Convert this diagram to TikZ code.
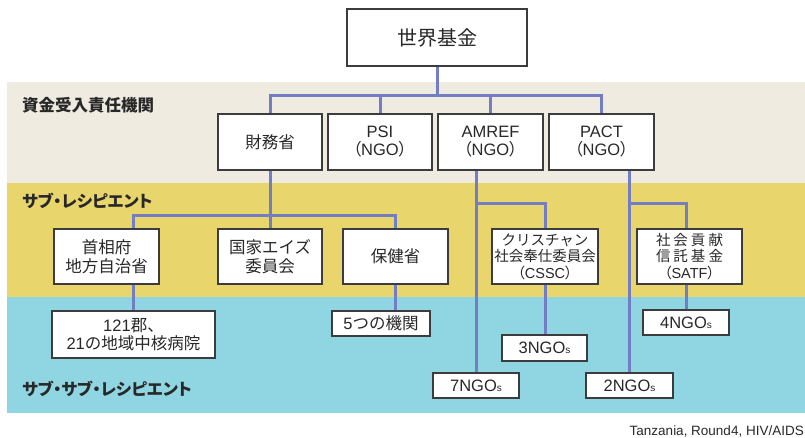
\documentclass[tikz,border=0pt]{standalone}
\usepackage{fontspec}
\setmainfont{Noto Sans CJK JP}
\newfontfamily\jpp[RawFeature=+palt]{Noto Sans CJK JP}
\newfontfamily\lat{Liberation Sans}
\newfontfamily\footfont{Liberation Sans}
\definecolor{bandbeige}{RGB}{239,235,225}
\definecolor{bandyellow}{RGB}{232,214,108}
\definecolor{bandcyan}{RGB}{143,214,226}
\definecolor{linkblue}{RGB}{115,125,195}
\definecolor{bordergray}{RGB}{60,60,60}
\definecolor{textgray}{RGB}{40,40,40}
\newcommand{\ngos}[1]{{\lat #1NGO{\fontsize{10}{10}\selectfont s}}}
\newcommand{\pn}[1]{{\jpp （}{\lat #1}{\jpp ）}}
\newcommand{\lsp}{\hspace{3pt}}
\pgfdeclarelayer{bands}
\pgfdeclarelayer{lines}
\pgfsetlayers{bands,lines,main}
\begin{document}
\begin{tikzpicture}[x=1pt,y=-1pt,
  box/.style={draw=bordergray, line width=1.2pt, fill=white, inner sep=0pt,
    align=center, text=textgray, font=\fontsize{16.5}{18}\selectfont},
  smallbox/.style={box, font=\fontsize{14.5}{16.5}\selectfont},
  link/.style={draw=linkblue, line width=3pt},
  lvl/.style={anchor=west, text=textgray, inner sep=0pt,
    font=\jpp\fontsize{16.5}{18}\selectfont\bfseries}]
\useasboundingbox (0,0) rectangle (805,437);
% bands
\begin{pgfonlayer}{bands}
\fill[bandbeige] (7,82) rectangle (805,183);
\fill[bandyellow] (7,183) rectangle (805,297);
\fill[bandcyan] (7,297) rectangle (805,413);
\end{pgfonlayer}
% level labels
\node[lvl] (l1) at (22,105) {資金受入責任機関};
\node[lvl] (l2) at (22,200.5) {サブ・レシピエント};
\node[lvl] (l3) at (22,389) {サブ・サブ・レシピエント};
\node[anchor=base east, inner sep=0pt, text=textgray, font=\footfont\fontsize{13.5}{14}\selectfont] (foot) at (804,435) {Tanzania, Round4, HIV/AIDS};
% top
\node[box, minimum width=180, minimum height=57, font=\fontsize{20}{22}\selectfont] (top) at (437,37.5) {世界基金};
% row 1
\node[box, minimum width=104, minimum height=56] (zaimu) at (270,142) {財務省};
\node[box, minimum width=104, minimum height=56] (psi) at (380,142) {{\lat PSI}\\\pn{NGO}};
\node[box, minimum width=105, minimum height=56] (amref) at (490.5,142) {{\lat AMREF}\\\pn{NGO}};
\node[box, minimum width=105, minimum height=56] (pact) at (601.5,142) {{\lat PACT}\\\pn{NGO}};
% row 2
\node[box, minimum width=105, minimum height=55, font=\fontsize{16.5}{19}\selectfont] (shusho) at (106.5,256.5) {首相府\\地方自治省};
\node[box, minimum width=104, minimum height=55, font=\fontsize{16.5}{19}\selectfont] (kokka) at (270,256.5) {国家エイズ\\委員会};
\node[box, minimum width=105, minimum height=55] (hoken) at (395.5,256.5) {保健省};
\node[smallbox, minimum width=106, minimum height=55] (cssc) at (545,256.5) {クリスチャン\\社会奉仕委員会\\\pn{CSSC}};
\node[smallbox, minimum width=105, minimum height=55] (satf) at (689.5,256.5) {社\lsp 会\lsp 貢\lsp 献\\信\lsp 託\lsp 基\lsp 金\\\pn{SATF}};
% row 3
\node[box, minimum width=163, minimum height=47] (gun) at (133.5,334.5) {{\lat 121}郡、\\{\lat 21}の地域中核病院};
\node[box, minimum width=98, minimum height=25] (kikan) at (381,323.5) {{\lat 5}つの機関};
\node[box, minimum width=86, minimum height=25] (n4) at (686,322.5) {\ngos{4}};
\node[box, minimum width=85, minimum height=26] (n3) at (544.5,348) {\ngos{3}};
\node[box, minimum width=86, minimum height=25] (n7) at (476,385.5) {\ngos{7}};
\node[box, minimum width=87, minimum height=25] (n2) at (629.5,385.5) {\ngos{2}};
% bus coordinates
\coordinate (b1) at (437,95);
\coordinate (b2) at (133,215.5);
\coordinate (b3) at (476.5,203);
\coordinate (b4) at (629.5,203);
% connectors
\begin{pgfonlayer}{lines}
\draw[link] (top.south) -- (b1);
\draw[link] (zaimu.north) |- (b1) -| (pact.north);
\draw[link] (psi.north) -- (psi.north |- b1);
\draw[link] (amref.north) -- (amref.north |- b1);
\draw[link] (zaimu.south) -- (kokka.north);
\draw[link] (b2 |- shusho.north) -- (b2) -| (hoken.north);
\draw[link] (b2 |- shusho.south) -- (b2 |- gun.north);
\draw[link] (hoken.south) -- (hoken.south |- kikan.north);
\draw[link] (b3 |- amref.south) -- (b3 |- n7.north);
\draw[link] (b3) -| (cssc.north);
\draw[link] (cssc.south) -- (cssc.south |- n3.north);
\draw[link] (b4 |- pact.south) -- (b4 |- n2.north);
\draw[link] (b4) -| (n4.north |- satf.north);
\draw[link] (n4.north |- satf.south) -- (n4.north);
\end{pgfonlayer}
\end{tikzpicture}
\end{document}
